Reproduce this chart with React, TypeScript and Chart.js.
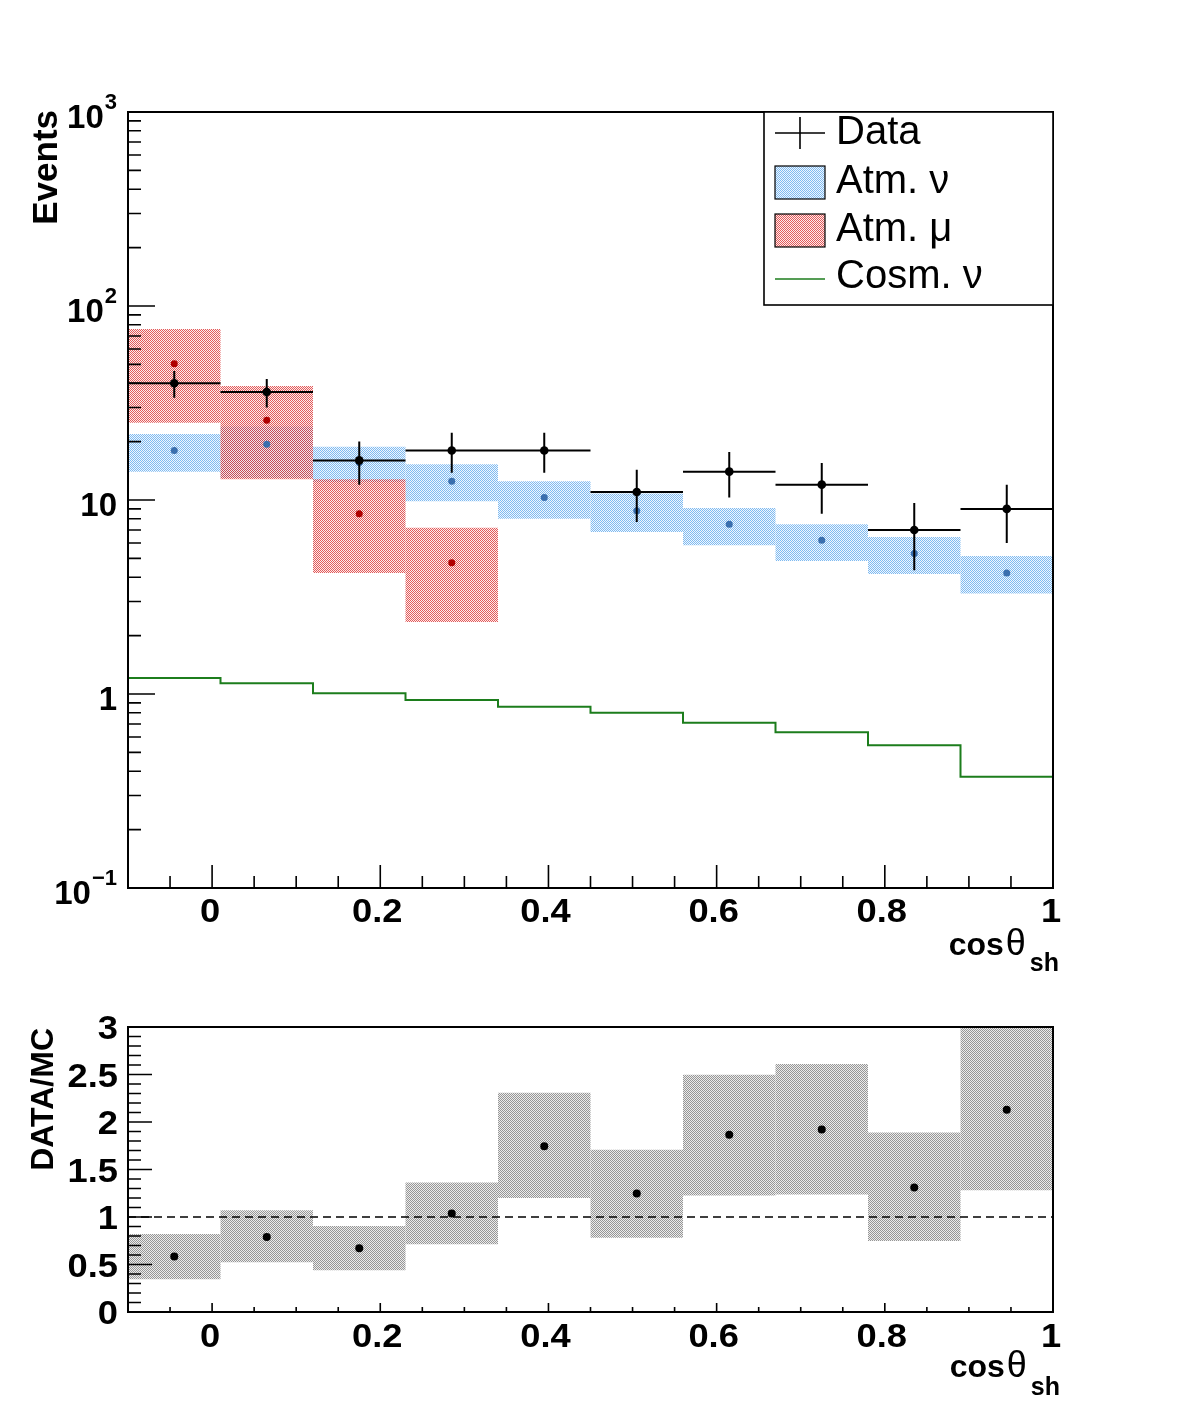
import { useEffect, useRef } from "react";
import { Chart, registerables } from "chart.js";

Chart.register(...registerables);

// Binning in cos(theta_sh)
const binEdges = [-0.1, 0.01, 0.12, 0.23, 0.34, 0.45, 0.56, 0.67, 0.78, 0.89, 1.0];

// Observed events with their statistical errors
const dataEvents = [40, 36, 16, 18, 18, 11, 14, 12, 7, 9];
const dataErrors = [6.3, 6.0, 4.0, 4.2, 4.2, 3.3, 3.7, 3.5, 2.65, 3.0];

// Atmospheric neutrinos: expectation and uncertainty band
const atmNuValue = [18.0, 19.4, 15.6, 12.5, 10.3, 8.8, 7.5, 6.2, 5.3, 4.2];
const atmNuLow = [14.0, 13.0, 12.4, 9.85, 8.0, 6.85, 5.85, 4.85, 4.15, 3.3];
const atmNuHigh = [21.9, 23.9, 18.8, 15.3, 12.5, 10.8, 9.1, 7.5, 6.45, 5.15];

// Atmospheric muons (only the first four bins are populated)
const atmMuValue = [50.4, 25.8, 8.5, 4.75];
const atmMuLow = [25.0, 12.8, 4.2, 2.35];
const atmMuHigh = [76.0, 38.7, 12.8, 7.2];

// Cosmic neutrino expectation
const cosmNuValue = [1.21, 1.135, 1.01, 0.93, 0.86, 0.8, 0.71, 0.635, 0.545, 0.375];

// Data / MC ratio and its band
const ratioValue = [0.583, 0.789, 0.671, 1.038, 1.746, 1.247, 1.866, 1.921, 1.31, 2.128];
const ratioLow = [0.346, 0.524, 0.44, 0.713, 1.201, 0.782, 1.226, 1.237, 0.747, 1.282];
const ratioHigh = [0.82, 1.072, 0.905, 1.363, 2.309, 1.709, 2.498, 2.61, 1.89, 3.0];
const ratioReference = 1;

// Axis ticks and labels
const xMajorTicks = [0, 0.2, 0.4, 0.6, 0.8, 1];
const xTickLabels = ["0", "0.2", "0.4", "0.6", "0.8", "1"];
const logDecades = [0.1, 1, 10, 100, 1000];
const logLabelBase = ["10", "1", "10", "10", "10"];
const logLabelExp = ["\u22121", "", "", "2", "3"];
const ratioMajorTicks = [0, 0.5, 1, 1.5, 2, 2.5, 3];
const ratioTickLabels = ["0", "0.5", "1", "1.5", "2", "2.5", "3"];

const legendLabels = ["Data", "Atm. \u03bd", "Atm. \u03bc", "Cosm. \u03bd"];

const FONT = '"Liberation Sans", Arial, Helvetica, sans-serif';
const W = 1182;
const TOP_H = 1000;
const BOTTOM_H = 409;
const LABEL_STRETCH = 1.1;

const centers = binEdges.slice(0, -1).map((e, i) => (e + binEdges[i + 1]) / 2);

// Two-tone 1px checkerboard fill, in the spirit of ROOT's dotted fill styles
function checker(strong: string, weak: string): CanvasPattern {
  const c = document.createElement("canvas");
  c.width = 2;
  c.height = 2;
  const g = c.getContext("2d")!;
  g.fillStyle = weak;
  g.fillRect(1, 0, 1, 1);
  g.fillRect(0, 1, 1, 1);
  g.fillStyle = strong;
  g.fillRect(0, 0, 1, 1);
  g.fillRect(1, 1, 1, 1);
  return g.createPattern(c, "repeat")!;
}

const bandData = (lo: number[], hi: number[]) =>
  lo.map((l, i) => ({ x: centers[i], y: [l, hi[i]] }));

const pointData = (vals: number[]) => vals.map((v, i) => ({ x: centers[i], y: v }));

const barStyle = {
  type: "bar" as const,
  borderWidth: 0,
  grouped: false,
  barPercentage: 1,
  categoryPercentage: 1,
  borderSkipped: false,
  inflateAmount: 0,
};

function stretchedText(ctx: CanvasRenderingContext2D, text: string, x: number, y: number, align: "left" | "right" | "center") {
  ctx.save();
  ctx.translate(x, y);
  ctx.scale(LABEL_STRETCH, 1);
  ctx.textAlign = align;
  ctx.fillText(text, 0, 0);
  ctx.restore();
}

function drawXAxis(ctx: CanvasRenderingContext2D, chart: any, majorLen: number, minorLen: number, labelBaseline: number) {
  const x = chart.scales.x;
  const a = chart.chartArea;
  ctx.beginPath();
  for (let k = -1; k <= 19; k++) {
    if (k % 4 === 0) continue;
    const px = x.getPixelForValue(k * 0.05);
    ctx.moveTo(px, a.bottom);
    ctx.lineTo(px, a.bottom - minorLen);
  }
  xMajorTicks.forEach((v) => {
    const px = x.getPixelForValue(v);
    ctx.moveTo(px, a.bottom);
    ctx.lineTo(px, a.bottom - majorLen);
  });
  ctx.stroke();
  ctx.font = `bold 33px ${FONT}`;
  ctx.textBaseline = "alphabetic";
  xMajorTicks.forEach((v, i) => {
    const px = x.getPixelForValue(v);
    const off = xTickLabels[i].length > 1 ? -3 : -2;
    stretchedText(ctx, xTickLabels[i], px + off, labelBaseline, "center");
  });
}

function drawCosTitle(ctx: CanvasRenderingContext2D, rightX: number, baseline: number, subDrop: number) {
  const fCos = `bold 32px ${FONT}`;
  const fTheta = `36px ${FONT}`;
  const fSub = `bold 25px ${FONT}`;
  ctx.font = fSub;
  const wSub = ctx.measureText("sh").width;
  ctx.font = fTheta;
  const wT = ctx.measureText("\u03b8").width;
  ctx.font = fCos;
  const wC = ctx.measureText("cos").width;
  let x0 = rightX - wSub - 4 - wT - 2 - wC;
  ctx.textAlign = "left";
  ctx.textBaseline = "alphabetic";
  ctx.fillText("cos", x0, baseline);
  x0 += wC + 2;
  ctx.font = fTheta;
  ctx.fillText("\u03b8", x0, baseline);
  x0 += wT + 4;
  ctx.font = fSub;
  ctx.fillText("sh", x0, baseline + subDrop);
}

function drawRotatedTitle(ctx: CanvasRenderingContext2D, text: string, font: string, baselineX: number, endY: number) {
  ctx.save();
  ctx.translate(baselineX, endY);
  ctx.rotate(-Math.PI / 2);
  ctx.font = font;
  ctx.textAlign = "right";
  ctx.textBaseline = "alphabetic";
  ctx.fillText(text, 0, 0);
  ctx.restore();
}

export default function App() {
  const topRef = useRef<HTMLCanvasElement>(null);
  const bottomRef = useRef<HTMLCanvasElement>(null);

  useEffect(() => {
    const blue = checker("rgb(128,186,240)", "rgba(232,243,253,0.7)");
    const red = checker("rgba(218,45,45,0.78)", "rgba(250,200,200,0.35)");
    const grey = checker("rgb(150,150,150)", "rgb(236,236,236)");

    const topDecorations = {
      id: "topDecorations",
      afterDatasetsDraw(chart: any) {
        const ctx: CanvasRenderingContext2D = chart.ctx;
        const a = chart.chartArea;
        const y = chart.scales.y;
        ctx.save();
        ctx.strokeStyle = "#000";
        ctx.fillStyle = "#000";
        ctx.lineWidth = 1.6;

        // log y ticks
        ctx.beginPath();
        logDecades.forEach((d, i) => {
          const py = y.getPixelForValue(d);
          ctx.moveTo(a.left, py);
          ctx.lineTo(a.left + 27, py);
          if (i < logDecades.length - 1) {
            for (let m = 2; m <= 9; m++) {
              const pm = y.getPixelForValue(m * d);
              ctx.moveTo(a.left, pm);
              ctx.lineTo(a.left + 13, pm);
            }
          }
        });
        ctx.stroke();

        drawXAxis(ctx, chart, 23, 12, 922);

        // log y labels
        ctx.textBaseline = "alphabetic";
        ctx.textAlign = "right";
        const rightEdge = 117;
        logDecades.forEach((d, i) => {
          const py = y.getPixelForValue(d);
          let xr = rightEdge;
          if (logLabelExp[i]) {
            ctx.font = `bold 22px ${FONT}`;
            ctx.fillText(logLabelExp[i], xr, py - 3);
            xr -= ctx.measureText(logLabelExp[i]).width + 1;
          }
          ctx.font = `bold 33px ${FONT}`;
          ctx.fillText(logLabelBase[i], xr, py + 16);
        });

        // frame
        ctx.lineWidth = 2;
        ctx.strokeRect(a.left, a.top, a.right - a.left, a.bottom - a.top);

        // titles
        drawCosTitle(ctx, 1059, 955, 16);
        drawRotatedTitle(ctx, "Events", `bold 35px ${FONT}`, 57, 110);

        // legend
        const lx = 764, ly = 112, lw = 1053 - 764, lh = 305 - 112;
        ctx.fillStyle = "#fff";
        ctx.fillRect(lx, ly, lw, lh);
        ctx.lineWidth = 1.6;
        ctx.strokeStyle = "#000";
        ctx.strokeRect(lx, ly, lw, lh);
        const rows = [133, 182, 230, 277];
        // data cross
        ctx.beginPath();
        ctx.moveTo(775, rows[0]);
        ctx.lineTo(825, rows[0]);
        ctx.moveTo(800, rows[0] - 16);
        ctx.lineTo(800, rows[0] + 16);
        ctx.stroke();
        // band boxes
        ctx.lineWidth = 1.2;
        ctx.fillStyle = blue;
        ctx.fillRect(775, rows[1] - 16, 50, 33);
        ctx.strokeRect(775, rows[1] - 16, 50, 33);
        ctx.fillStyle = red;
        ctx.fillRect(775, rows[2] - 16, 50, 33);
        ctx.strokeRect(775, rows[2] - 16, 50, 33);
        // cosmic line
        ctx.strokeStyle = "#1c7d1c";
        ctx.lineWidth = 1.6;
        ctx.beginPath();
        ctx.moveTo(775, rows[3] + 2);
        ctx.lineTo(825, rows[3] + 2);
        ctx.stroke();
        ctx.fillStyle = "#000";
        ctx.font = `40px ${FONT}`;
        ctx.textAlign = "left";
        ctx.textBaseline = "middle";
        legendLabels.forEach((t, i) => ctx.fillText(t, 836, rows[i]));
        ctx.restore();
      },
    };

    const bottomDecorations = {
      id: "bottomDecorations",
      afterDatasetsDraw(chart: any) {
        const ctx: CanvasRenderingContext2D = chart.ctx;
        const a = chart.chartArea;
        const y = chart.scales.y;
        ctx.save();
        ctx.strokeStyle = "#000";
        ctx.fillStyle = "#000";
        ctx.lineWidth = 1.6;

        ctx.beginPath();
        for (let k = 1; k < 30; k++) {
          if (k % 5 === 0) continue;
          const py = y.getPixelForValue(k / 10);
          ctx.moveTo(a.left, py);
          ctx.lineTo(a.left + 13, py);
        }
        ratioMajorTicks.forEach((v) => {
          const py = y.getPixelForValue(v);
          ctx.moveTo(a.left, py);
          ctx.lineTo(a.left + 24, py);
        });
        ctx.stroke();

        drawXAxis(ctx, chart, 9, 5, 1347 - TOP_H);

        ctx.font = `bold 33px ${FONT}`;
        ctx.textBaseline = "alphabetic";
        ratioMajorTicks.forEach((v, i) => {
          stretchedText(ctx, ratioTickLabels[i], 118, y.getPixelForValue(v) + 12, "right");
        });

        ctx.lineWidth = 2;
        ctx.strokeRect(a.left, a.top, a.right - a.left, a.bottom - a.top);

        drawCosTitle(ctx, 1060, 1377 - TOP_H, 18);
        drawRotatedTitle(ctx, "DATA/MC", `bold 32px ${FONT}`, 53, 1028 - TOP_H);
        ctx.restore();
      },
    };

    const xScale = {
      type: "linear",
      min: binEdges[0],
      max: binEdges[binEdges.length - 1],
      offset: false,
      display: false,
      ticks: { stepSize: 0.2, includeBounds: false },
    };

    const top = new Chart(topRef.current!, {
      type: "scatter",
      data: {
        datasets: [
          {
            ...barStyle,
            label: "Atm. \u03bd band",
            data: bandData(atmNuLow, atmNuHigh),
            backgroundColor: blue,
            order: 9,
          },
          {
            ...barStyle,
            label: "Atm. \u03bc band",
            data: bandData(atmMuLow, atmMuHigh),
            backgroundColor: red,
            order: 8,
          },
          {
            type: "line",
            label: "Cosm. \u03bd",
            data: binEdges.map((e, i) => ({ x: e, y: cosmNuValue[Math.min(i, cosmNuValue.length - 1)] })),
            stepped: true,
            borderColor: "#1c7d1c",
            borderWidth: 2,
            pointRadius: 0,
            fill: false,
            order: 7,
          },
          {
            type: "scatter",
            label: "Atm. \u03bd",
            data: pointData(atmNuValue),
            backgroundColor: "#3a6fae",
            borderWidth: 0,
            pointRadius: 3.5,
            order: 6,
          },
          {
            type: "scatter",
            label: "Atm. \u03bc",
            data: pointData(atmMuValue),
            backgroundColor: "#b00000",
            borderWidth: 0,
            pointRadius: 3.5,
            order: 5,
          },
          {
            type: "line",
            label: "Data bin width",
            data: dataEvents.flatMap((v, i) => [
              { x: binEdges[i], y: v },
              { x: binEdges[i + 1], y: v },
              { x: centers[i], y: null },
            ]),
            borderColor: "#000",
            borderWidth: 2,
            pointRadius: 0,
            fill: false,
            spanGaps: false,
            order: 4,
          },
          {
            type: "line",
            label: "Data errors",
            data: dataEvents.flatMap((v, i) => [
              { x: centers[i], y: v - dataErrors[i] },
              { x: centers[i], y: v + dataErrors[i] },
              { x: centers[i], y: null },
            ]),
            borderColor: "#000",
            borderWidth: 2,
            pointRadius: 0,
            fill: false,
            spanGaps: false,
            order: 3,
          },
          {
            type: "scatter",
            label: "Data",
            data: pointData(dataEvents),
            backgroundColor: "#000",
            borderWidth: 0,
            pointRadius: 4.3,
            order: 2,
          },
        ],
      } as any,
      options: {
        animation: false,
        responsive: false,
        devicePixelRatio: 1,
        layout: { padding: { left: 128, right: W - 1053, top: 112, bottom: TOP_H - 888 } },
        scales: {
          x: xScale,
          y: { type: "logarithmic", min: 0.1, max: 1000, display: false },
        },
        plugins: { legend: { display: false }, tooltip: { enabled: false } },
      } as any,
      plugins: [topDecorations],
    });

    const bottom = new Chart(bottomRef.current!, {
      type: "scatter",
      data: {
        datasets: [
          {
            ...barStyle,
            label: "DATA/MC band",
            data: bandData(ratioLow, ratioHigh),
            backgroundColor: grey,
            order: 9,
          },
          {
            type: "line",
            label: "Unity",
            data: [
              { x: binEdges[0], y: ratioReference },
              { x: binEdges[binEdges.length - 1], y: ratioReference },
            ],
            borderColor: "#000",
            borderWidth: 1.6,
            borderDash: [8, 5],
            pointRadius: 0,
            fill: false,
            order: 8,
          },
          {
            type: "scatter",
            label: "DATA/MC",
            data: pointData(ratioValue),
            backgroundColor: "#000",
            borderWidth: 0,
            pointRadius: 4,
            order: 2,
          },
        ],
      } as any,
      options: {
        animation: false,
        responsive: false,
        devicePixelRatio: 1,
        layout: { padding: { left: 128, right: W - 1053, top: 1027 - TOP_H, bottom: TOP_H + BOTTOM_H - 1312 } },
        scales: {
          x: { ...xScale },
          y: { type: "linear", min: 0, max: 3, display: false },
        },
        plugins: { legend: { display: false }, tooltip: { enabled: false } },
      } as any,
      plugins: [bottomDecorations],
    });

    return () => {
      top.destroy();
      bottom.destroy();
    };
  }, []);

  return (
    <div style={{ position: "absolute", left: 0, top: 0, width: W, height: TOP_H + BOTTOM_H, background: "#fff" }}>
      <canvas ref={topRef} width={W} height={TOP_H} style={{ position: "absolute", left: 0, top: 0 }} />
      <canvas ref={bottomRef} width={W} height={BOTTOM_H} style={{ position: "absolute", left: 0, top: TOP_H }} />
    </div>
  );
}
